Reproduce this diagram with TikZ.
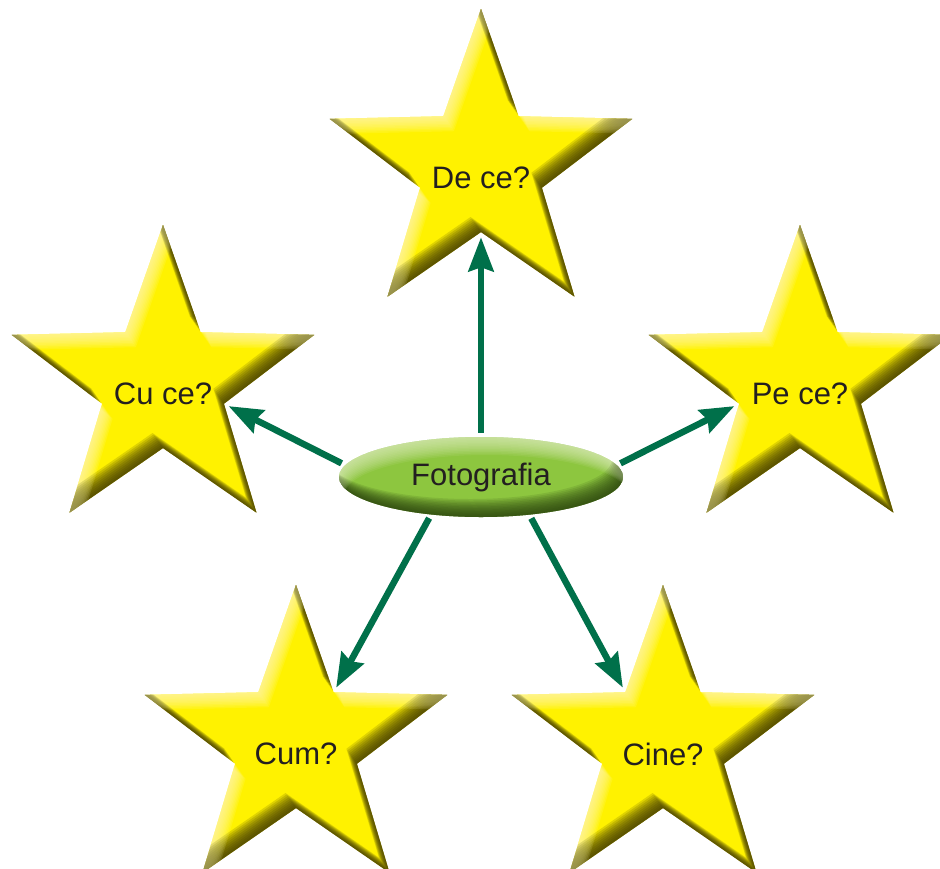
\documentclass[tikz,border=0pt]{standalone}
\usepackage{fontspec}
\setmainfont{Liberation Sans}
\usetikzlibrary{shapes.geometric,arrows.meta}
\definecolor{staryellow}{HTML}{FFF200}
\definecolor{stardark}{HTML}{3E3700}
\definecolor{starlight}{HTML}{FFFBB8}
\definecolor{ovgreen}{HTML}{8DC63F}
\definecolor{ovdark}{HTML}{263D0C}
\definecolor{ovlight}{HTML}{E6F2C8}
\definecolor{arrowgreen}{HTML}{00704A}
\definecolor{txt}{HTML}{231F20}

\newcommand\starpath[2]{plot[samples at={0,...,9}, variable=\k] ({#1+(mod(\k,2)==0 ? 159 : 64)*cos(-90+36*\k)}, {#2+(mod(\k,2)==0 ? 159 : 64)*sin(-90+36*\k)}) -- cycle}

\newcommand\drawstar[4]{%
  \begin{scope}
    \fill[staryellow] \starpath{#2}{#3};
    \clip \starpath{#2}{#3};
    \foreach \d in {1.5,3,...,15} {
      \fill[stardark, opacity=0.16, even odd rule] (#2-260,#3-260) rectangle (#2+260,#3+260) \starpath{#2-0.7*\d}{#3-\d};
      \fill[starlight, opacity=0.12, even odd rule] (#2-260,#3-260) rectangle (#2+260,#3+260) \starpath{#2+0.7*\d}{#3+\d};
    }
  \end{scope}
  \node[starshape] (#1) at (#2,#3) {};
  \node[startext] at (#2,#3+10) {#4};
}

\tikzset{
  starshape/.style={star, star points=5, star point ratio=2.484, minimum size=318pt, inner sep=0pt, draw=none},
  startext/.style={font=\fontsize{31}{36}\selectfont, text=txt, inner sep=0pt},
  arr/.style={draw=arrowgreen, line width=6.5pt, -{Stealth[length=34pt, width=25pt, inset=4pt]}, shorten <=4pt, shorten >=5pt},
}

\begin{document}
\begin{tikzpicture}[x=1pt, y=-1pt]
  \useasboundingbox (0,0) rectangle (940,868);
  \clip (0,0) rectangle (940,868);
  \fill[white] (0,0) rectangle (940,868);

  \drawstar{dece}{481}{168}{De ce?}
  \drawstar{cuce}{163}{384}{Cu ce?}
  \drawstar{pece}{800}{384}{Pe ce?}
  \drawstar{cum}{296}{744}{Cum?}
  \drawstar{cine}{663}{744}{Cine?}

  \begin{scope}
    \fill[ovgreen] (481,477) ellipse [x radius=142, y radius=40];
    \clip (481,477) ellipse [x radius=142, y radius=40];
    \foreach \d in {1.5,3,...,18} {
      \fill[ovdark, opacity=0.12, even odd rule] (300,400) rectangle (660,560) (481-0.6*\d,477-\d) ellipse [x radius=142, y radius=40];
      \fill[ovlight, opacity=0.09, even odd rule] (300,400) rectangle (660,560) (481+0.3*\d,477+\d) ellipse [x radius=142, y radius=40];
    }
  \end{scope}
  \node[ellipse, minimum width=284pt, minimum height=80pt, inner sep=0pt, draw=none,
        text=txt, font=\fontsize{31}{36}\selectfont] (foto) at (481,477) {};
  \node[startext] (fototext) at (foto.center) {Fotografia};

  \draw[arr] (foto.north) -- (dece.-90);
  \draw[arr] (foto.175) -- (cuce.-18);
  \draw[arr] (foto.5) -- (pece.198);
  \draw[arr] (foto.217) -- (cum.54);
  \draw[arr] (foto.-38) -- (cine.126);
\end{tikzpicture}
\end{document}
